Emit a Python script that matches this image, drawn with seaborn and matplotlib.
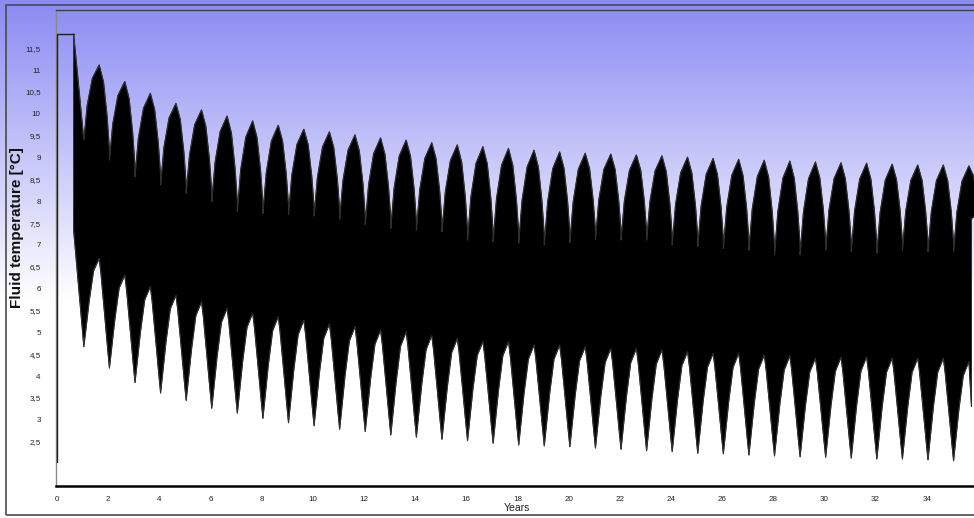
import numpy as np
import matplotlib
matplotlib.use("Agg")
import matplotlib.pyplot as plt
import seaborn as sns
from matplotlib.patches import Rectangle
from matplotlib.ticker import MultipleLocator, FixedLocator, FixedFormatter

# ---------------- data ----------------
cycles = list(range(1, 36))          # year index of each annual cycle
winter_phase = 0.05                   # time in year of the winter minimum
summer_phase = 0.65                   # time in year of the summer maximum

upper_peak = [11.12, 10.74, 10.47, 10.24, 10.09, 9.95, 9.84, 9.74, 9.65, 9.59,
              9.52, 9.45, 9.40, 9.34, 9.29, 9.25, 9.21, 9.17, 9.13, 9.10,
              9.08, 9.06, 9.04, 9.01, 8.98, 8.96, 8.94, 8.92, 8.90, 8.88,
              8.87, 8.85, 8.83, 8.83, 8.81]
upper_trough = [9.40, 8.94, 8.56, 8.37, 8.18, 7.99, 7.76, 7.72, 7.70, 7.66,
                7.59, 7.46, 7.38, 7.34, 7.30, 7.11, 7.07, 7.04, 7.00, 7.05,
                7.13, 7.11, 7.11, 7.00, 6.96, 6.92, 6.88, 6.77, 6.77, 6.88,
                6.85, 6.81, 6.88, 6.85, 6.85]
lower_peak = [6.69, 6.31, 6.05, 5.85, 5.70, 5.55, 5.44, 5.36, 5.28, 5.19,
              5.13, 5.05, 5.01, 4.93, 4.86, 4.79, 4.79, 4.71, 4.71, 4.67,
              4.63, 4.63, 4.60, 4.56, 4.52, 4.52, 4.48, 4.46, 4.41, 4.43,
              4.44, 4.41, 4.41, 4.41, 4.33]
lower_trough = [4.67, 4.18, 3.85, 3.61, 3.44, 3.26, 3.15, 3.03, 2.93, 2.86,
                2.78, 2.73, 2.65, 2.60, 2.55, 2.52, 2.46, 2.42, 2.40, 2.38,
                2.35, 2.32, 2.29, 2.27, 2.23, 2.22, 2.19, 2.17, 2.15, 2.14,
                2.12, 2.10, 2.10, 2.08, 2.06]

# shape of one summer dome of the upper edge:
# time offset from the peak (years) and fraction of the trough->peak rise
dome_rise_dt = [-0.47, -0.27]
dome_rise_frac = [0.46, 0.82]
dome_fall_dt = [0.17, 0.31, 0.40]
dome_fall_frac = [0.82, 0.46, 0.11]
# shape of one winter spike of the lower edge: offset from the trough and
# fraction of the trough->peak rise
spike_left_dt = [-0.33, -0.2, -0.07]
spike_left_frac = [0.86, 0.52, 0.17]
spike_right_dt = [0.07, 0.21, 0.38]
spike_right_frac = [0.17, 0.52, 0.86]

start_t = [0.0, 0.0, 0.65]
start_v = [2.04, 11.83, 11.83]
initial_lower = 7.34
end_t = 35.75
end_upper = 7.6
end_lower = 3.3

y_ticks = [2.5, 3, 3.5, 4, 4.5, 5, 5.5, 6, 6.5, 7, 7.5, 8, 8.5, 9, 9.5,
           10, 10.5, 11, 11.5]
y_labels = ["2,5", "3", "3,5", "4", "4,5", "5", "5,5", "6", "6,5", "7", "7,5",
            "8", "8,5", "9", "9,5", "10", "10,5", "11", "11,5"]
x_ticks = list(range(0, 36, 2))

# ---------------- envelopes ----------------
n = len(cycles)
ut, uv = [start_t[-1]], [start_v[-1]]
for i, k in enumerate(cycles):
    tt, pk = upper_trough[i], upper_peak[i]
    ut.append(k + winter_phase); uv.append(tt)
    tp = k + summer_phase
    for d, f in zip(dome_rise_dt, dome_rise_frac):
        ut.append(tp + d); uv.append(tt + f * (pk - tt))
    ut.append(tp); uv.append(pk)
    nxt = upper_trough[i + 1] if i + 1 < n else end_upper
    for d, f in zip(dome_fall_dt, dome_fall_frac):
        ut.append(tp + d); uv.append(nxt + f * (pk - nxt))
ut.append(end_t); uv.append(end_upper)

lt, lv = [start_t[-1]], [initial_lower]
for i, k in enumerate(cycles):
    tr = lower_trough[i]
    tw = k + winter_phase
    if i > 0:
        prev = lower_peak[i - 1]
        for d, f in zip(spike_left_dt, spike_left_frac):
            lt.append(tw + d); lv.append(tr + f * (prev - tr))
    lt.append(tw); lv.append(tr)
    nxt = lower_peak[i]
    for d, f in zip(spike_right_dt, spike_right_frac):
        lt.append(tw + d); lv.append(tr + f * (nxt - tr))
    lt.append(k + summer_phase); lv.append(nxt)
lt.append(end_t); lv.append(end_lower)

# ---------------- figure ----------------
W, H = 974, 518
fig = plt.figure(figsize=(W / 100, H / 100), dpi=100)
sns.set_style("white")
plt.rcParams['font.family'] = ['Liberation Sans', 'DejaVu Sans']

# background gradient (blue at top -> white)
bg = fig.add_axes([0, 0, 1, 1], zorder=-10)
rows = np.linspace(0, 1, H)[:, None]
frac = np.clip(rows * H / 300.0, 0, 1)
top = np.array([138, 138, 244]) / 255.0
img = top[None, None, :] * (1 - frac[..., None]) + frac[..., None] * 1.0
img = np.repeat(img, 4, axis=1)
bg.imshow(img, aspect='auto', extent=[0, 1, 0, 1], origin='upper')
bg.set_axis_off()

ax = fig.add_axes([56 / W, 32 / H, (974 - 56) / W, (508 - 32) / H])
ax.set_facecolor('none')
ax.patch.set_alpha(0)

px_per_year = 25.58
ax.set_xlim(-1 / px_per_year, (974 - 57) / px_per_year)
ax.set_ylim(1.484, 12.376)

ax.fill(ut + lt[::-1], uv + lv[::-1], facecolor='black', edgecolor='#222222',
        linewidth=0.6, zorder=3)
sns.lineplot(x=ut, y=uv, ax=ax, sort=False, estimator=None, color='#303030',
             linewidth=0.8, zorder=4)
sns.lineplot(x=lt, y=lv, ax=ax, sort=False, estimator=None, color='#303030',
             linewidth=0.8, zorder=4)
sns.lineplot(x=start_t, y=start_v, ax=ax, sort=False, estimator=None,
             color='#202020', linewidth=1.0, zorder=4)

# spines
ax.spines['right'].set_visible(False)
ax.spines['top'].set_color('#404040')
ax.spines['top'].set_linewidth(1.0)
ax.spines['left'].set_color('#8a8a8a')
ax.spines['left'].set_linewidth(1.0)
ax.spines['bottom'].set_color('black')
ax.spines['bottom'].set_linewidth(1.8)

ax.yaxis.set_major_locator(FixedLocator(y_ticks))
ax.yaxis.set_major_formatter(FixedFormatter(y_labels))
ax.yaxis.set_minor_locator(MultipleLocator(0.1))
ax.xaxis.set_major_locator(FixedLocator(x_ticks))
ax.xaxis.set_minor_locator(MultipleLocator(0.5))
ax.tick_params(axis='y', which='major', direction='out', length=4, width=0.8,
               color='#808080', labelsize=5.8, labelcolor='#222222', pad=7)
ax.tick_params(axis='y', which='minor', direction='out', length=2, width=0.6,
               color='#a0a0a0')
ax.tick_params(axis='x', which='major', direction='out', length=3.5, width=0.8,
               color='#808080', labelsize=5.8, labelcolor='#222222', pad=4)
ax.tick_params(axis='x', which='minor', direction='out', length=2.5, width=0.6,
               color='#a0a0a0')
ax.set_xlabel('')
ax.set_ylabel('')

fig.text(17 / W, 1 - 228 / H, 'Fluid temperature [°C]', rotation=90,
         ha='center', va='center', fontsize=11, fontweight='bold',
         color='#111111')
fig.text(517 / W, 1 - 508 / H, 'Years', ha='center', va='center',
         fontsize=7.5, color='#222222')

# outer frame
fig.add_artist(Rectangle((6 / W, 3 / H), 1.2, (515 - 5) / H,
                         transform=fig.transFigure, fill=False,
                         edgecolor='#4a4a4a', linewidth=1.2))

fig.savefig('out.png', dpi=100)
